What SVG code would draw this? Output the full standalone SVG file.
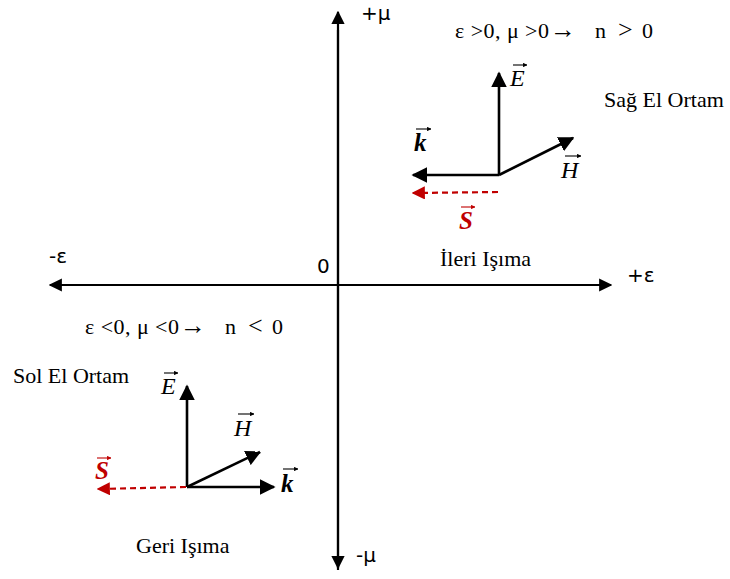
<svg xmlns="http://www.w3.org/2000/svg" width="730" height="579" viewBox="0 0 730 579">
<style>
.ax{stroke:#000;stroke-width:2.2;fill:none}
.v{stroke:#000;stroke-width:2.6;fill:none}
.s{stroke:#c00000;stroke-width:2.2;stroke-dasharray:6,4;fill:none}
.sans{font-family:"DejaVu Sans","Liberation Sans",sans-serif;font-size:20px;fill:#000}
.ser{font-family:"Liberation Serif","Times New Roman",serif;font-size:22px;fill:#000}
.big{font-size:26px}
.lab{font-family:"Liberation Serif","Times New Roman",serif;font-size:22px;fill:#000}
.vec{font-family:"Liberation Serif","Times New Roman",serif;font-style:italic;font-size:24px;fill:#000}
.vb{font-weight:bold;font-size:25px}
.red{fill:#c00000}
.ov{stroke:#000;stroke-width:1.1;fill:none}
.ovr{stroke:#c00000;stroke-width:1.1;fill:none}
</style>
<defs>
<marker id="aa" viewBox="0 0 10 10" refX="9" refY="5" markerWidth="6" markerHeight="6" orient="auto"><path d="M0,0L10,5L0,10z" fill="#000"/></marker>
<marker id="ar" viewBox="0 0 10 10" refX="9" refY="5" markerWidth="6" markerHeight="6" orient="auto"><path d="M0,0L10,5L0,10z" fill="#c00000"/></marker>
<marker id="sm" viewBox="0 0 10 10" refX="9" refY="5" markerWidth="4" markerHeight="4" orient="auto"><path d="M0,0L10,5L0,10z" fill="#000"/></marker>
<marker id="smr" viewBox="0 0 10 10" refX="9" refY="5" markerWidth="4" markerHeight="4" orient="auto"><path d="M0,0L10,5L0,10z" fill="#c00000"/></marker>
</defs>
<g id="connectors">
<line class="ax" x1="338" y1="570" x2="338" y2="12" marker-end="url(#aa)"/>
<line class="ax" x1="338" y1="30" x2="338" y2="568" marker-end="url(#aa)"/>
<line class="ax" x1="60" y1="285" x2="611" y2="285" marker-end="url(#aa)"/>
<line class="ax" x1="600" y1="285" x2="50" y2="285" marker-end="url(#aa)"/>
</g>
<g id="axis-labels">
<text class="sans" x="361" y="20">+μ</text>
<text class="sans" x="356" y="562">-μ</text>
<text class="sans" x="627" y="282">+ε</text>
<text class="sans" x="49" y="263">-ε</text>
<text class="sans" x="317" y="273" font-size="17">0</text>
</g>
<g id="quadrant-right">
<text class="ser" y="38"><tspan x="455" textLength="94" lengthAdjust="spacing">ε &gt;0, μ &gt;0</tspan><tspan class="big" x="550">→</tspan><tspan x="595">n</tspan><tspan class="big" x="618">&gt;</tspan><tspan x="642">0</tspan></text>
<text class="lab" x="604" y="107">Sağ El Ortam</text>
<text class="lab" x="440" y="266">İleri Işıma</text>
<line class="v" x1="499" y1="175" x2="499" y2="73" marker-end="url(#aa)"/>
<line class="v" x1="499" y1="175" x2="413" y2="175" marker-end="url(#aa)"/>
<line class="v" x1="499" y1="175" x2="573" y2="138" marker-end="url(#aa)"/>
<line class="s" x1="498" y1="192" x2="413" y2="193" marker-end="url(#ar)"/>
<text class="vec" x="510" y="86">E</text>
<line class="ov" x1="513" y1="65" x2="527" y2="65" marker-end="url(#sm)"/>
<text class="vec vb" x="414" y="151">k</text>
<line class="ov" x1="416" y1="129" x2="431" y2="129" marker-end="url(#sm)"/>
<text class="vec" x="561" y="178">H</text>
<line class="ov" x1="565" y1="156" x2="581" y2="156" marker-end="url(#sm)"/>
<text class="vec vb red" x="459" y="229">S</text>
<line class="ovr" x1="461" y1="207" x2="475" y2="207" marker-end="url(#smr)"/>
</g>
<g id="quadrant-left">
<text class="ser" y="334"><tspan x="85" textLength="94" lengthAdjust="spacing">ε &lt;0, μ &lt;0</tspan><tspan class="big" x="180">→</tspan><tspan x="225">n</tspan><tspan class="big" x="248">&lt;</tspan><tspan x="272">0</tspan></text>
<text class="lab" x="13" y="383">Sol El Ortam</text>
<text class="lab" x="136" y="553">Geri Işıma</text>
<line class="v" x1="187" y1="487" x2="187" y2="386" marker-end="url(#aa)"/>
<line class="v" x1="187" y1="487" x2="274" y2="487" marker-end="url(#aa)"/>
<line class="v" x1="187" y1="487" x2="260" y2="452" marker-end="url(#aa)"/>
<line class="s" x1="186" y1="487" x2="98" y2="489" marker-end="url(#ar)"/>
<text class="vec" x="161" y="394">E</text>
<line class="ov" x1="164" y1="373" x2="178" y2="373" marker-end="url(#sm)"/>
<text class="vec" x="234" y="436">H</text>
<line class="ov" x1="238" y1="414" x2="254" y2="414" marker-end="url(#sm)"/>
<text class="vec vb" x="281" y="492">k</text>
<line class="ov" x1="283" y1="469" x2="298" y2="469" marker-end="url(#sm)"/>
<text class="vec vb red" x="95" y="479">S</text>
<line class="ovr" x1="97" y1="458" x2="111" y2="458" marker-end="url(#smr)"/>
</g>
</svg>
